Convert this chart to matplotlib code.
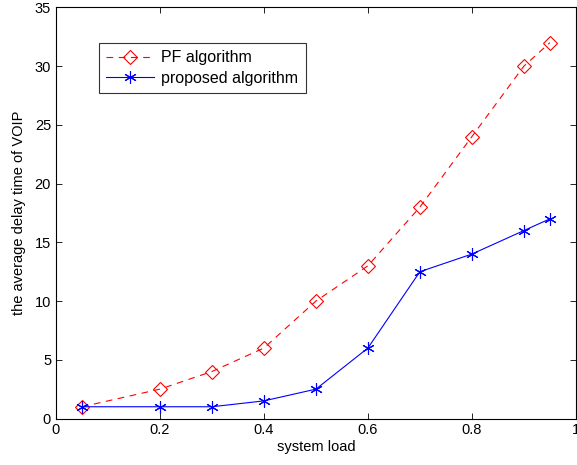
import matplotlib
matplotlib.use("Agg")
import matplotlib.pyplot as plt

load = [0.05, 0.2, 0.3, 0.4, 0.5, 0.6, 0.7, 0.8, 0.9, 0.95]
pf_delay = [1, 2.5, 4, 6, 10, 13, 18, 24, 30, 32]
proposed_delay = [1, 1, 1, 1.5, 2.5, 6, 12.5, 14, 16, 17]

plt.rcParams['font.family'] = ['Liberation Sans', 'DejaVu Sans']

fig = plt.figure(figsize=(5.77, 4.65), dpi=100)
ax = fig.add_axes([0.097, 0.1, 0.901, 0.884])

ax.plot(load, pf_delay, color='red', linestyle=(0, (6, 5)), linewidth=0.8,
        marker='D', markersize=7.5, markerfacecolor='none', markeredgecolor='red',
        markeredgewidth=0.8, label='PF algorithm')
ax.plot(load, proposed_delay, color='blue', linestyle='-', linewidth=0.8,
        marker=(6, 2, 0), markersize=9, markerfacecolor='none', markeredgecolor='blue',
        markeredgewidth=0.8, label='proposed algorithm')

ax.set_xlim(0, 1)
ax.set_ylim(0, 35)
ax.set_xticks([0, 0.2, 0.4, 0.6, 0.8, 1])
ax.set_xticklabels(['0', '0.2', '0.4', '0.6', '0.8', '1'])
ax.set_yticks([0, 5, 10, 15, 20, 25, 30, 35])
ax.tick_params(direction='in', top=True, right=True, labelsize=10.5, length=4, width=0.6)
for s in ax.spines.values():
    s.set_linewidth(0.8)

ax.set_xlabel('system load', fontsize=10.5, labelpad=2)
ax.set_ylabel('the average delay time of VOIP', fontsize=10.5, labelpad=6)

leg = ax.legend(loc='upper left', bbox_to_anchor=(0.083, 0.913), borderaxespad=0,
                fontsize=11.5, frameon=True, fancybox=False, edgecolor='black',
                handlelength=3.0, borderpad=0.45, labelspacing=0.35, handletextpad=0.45)
leg.get_frame().set_linewidth(0.8)

fig.savefig('out.png', dpi=100)
